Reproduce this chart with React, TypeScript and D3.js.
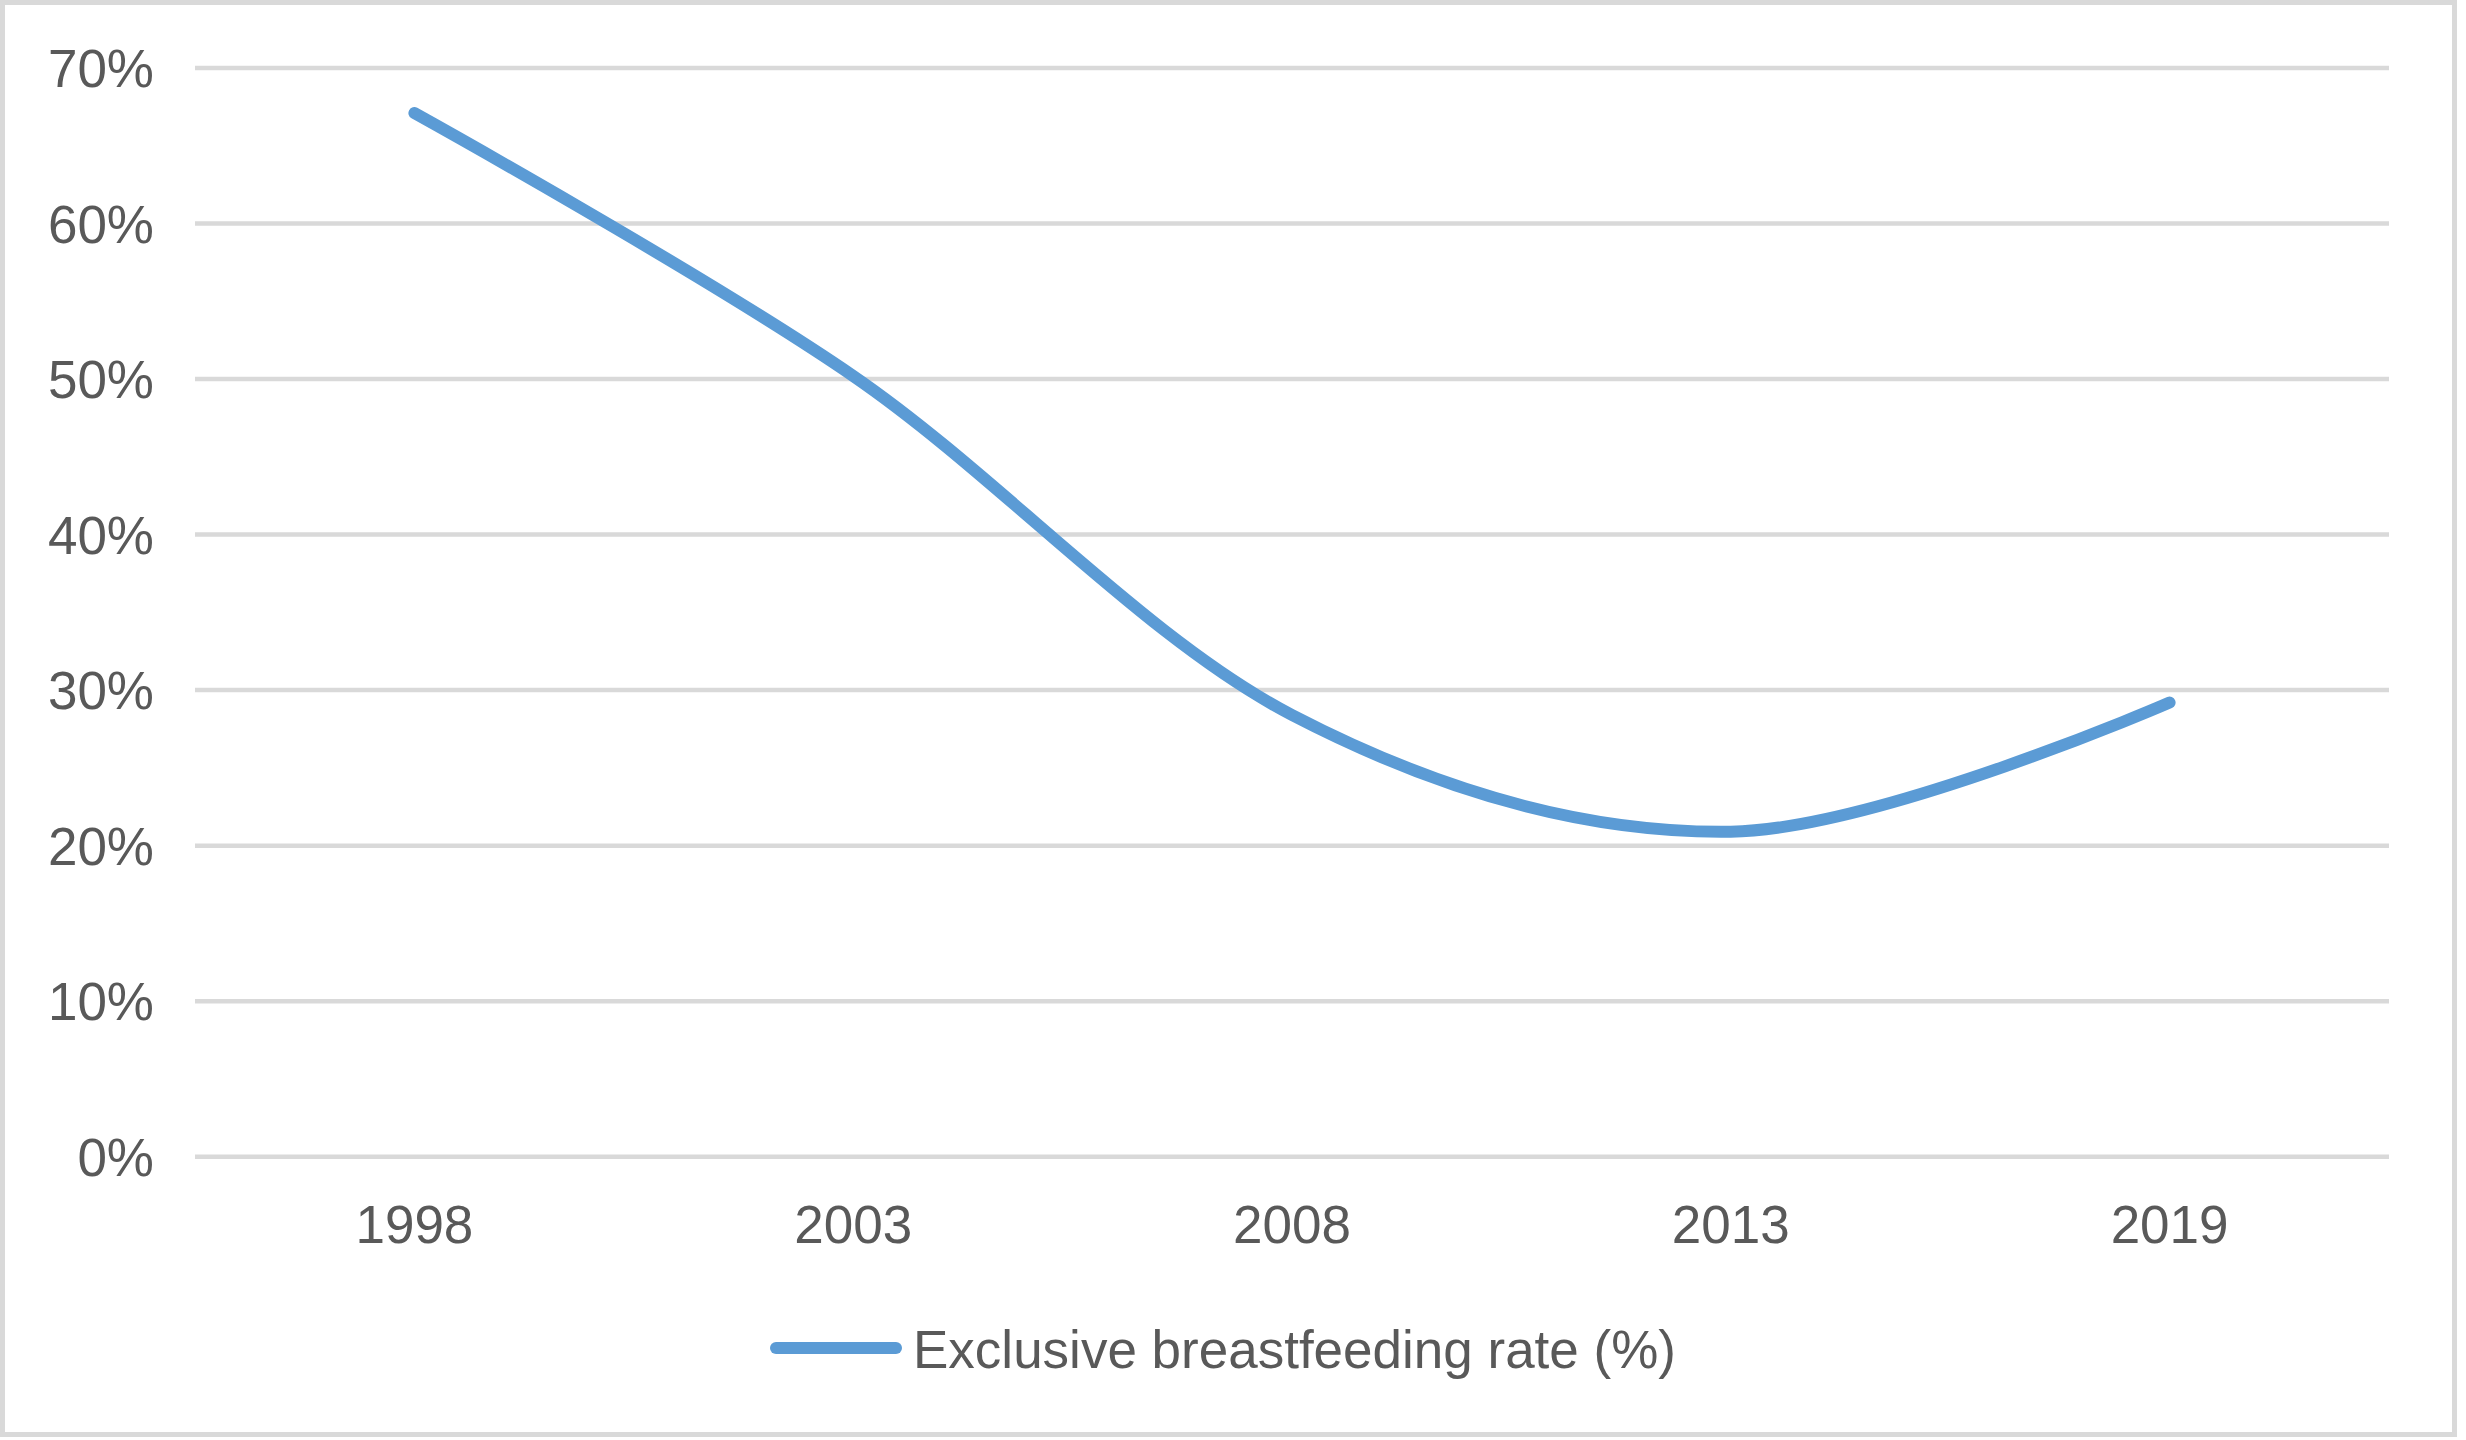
import React from "react";
import * as d3 from "d3";

// Survey years and exclusive breastfeeding rate (share of infants)
const years: string[] = ["1998", "2003", "2008", "2013", "2019"];
const rates: number[] = [0.671, 0.502, 0.284, 0.209, 0.292];
const yTicks: number[] = [0, 0.1, 0.2, 0.3, 0.4, 0.5, 0.6, 0.7];
const seriesName = "Exclusive breastfeeding rate (%)";

const W = 2466;
const H = 1440;
const plot = { left: 195, right: 2389, top: 68, bottom: 1156.7 };
const FONT = "'Liberation Sans', Arial, Helvetica, sans-serif";
const TEXT = "#595959";
const GRID = "#d9d9d9";
const LINE = "#5b9bd5";

export default function App() {
  const x = d3
    .scaleBand<string>()
    .domain(years)
    .range([plot.left, plot.right])
    .paddingInner(0)
    .paddingOuter(0);
  const y = d3.scaleLinear().domain([0, 0.7]).range([plot.bottom, plot.top]);
  const cx = (yr: string) => (x(yr) ?? 0) + x.bandwidth() / 2;

  const pts: [number, number][] = years.map((yr, i) => [cx(yr), y(rates[i])]);
  const line = d3.line().curve(d3.curveCardinal.tension(0));
  const pathD = line(pts) ?? "";

  const fmt = d3.format(".0%");
  const tickSize = 53;
  const capHalf = tickSize * 0.716 / 2;

  return (
    <svg
      width={W}
      height={H}
      style={{ position: "absolute", left: 0, top: 0, background: "#fff" }}
    >
      <rect x={0} y={0} width={W} height={H} fill="#fff" />
      <rect
        x={2.5}
        y={2.5}
        width={2452}
        height={1432}
        fill="#fff"
        stroke={GRID}
        strokeWidth={5}
      />
      {yTicks.map((t) => (
        <g key={t}>
          <line
            x1={plot.left}
            x2={plot.right}
            y1={y(t)}
            y2={y(t)}
            stroke={GRID}
            strokeWidth={4.5}
          />
          <text
            x={154}
            y={y(t) + capHalf}
            textAnchor="end"
            fontFamily={FONT}
            fontSize={tickSize}
            fill={TEXT}
          >
            {fmt(t)}
          </text>
        </g>
      ))}
      {years.map((yr) => (
        <text
          key={yr}
          x={cx(yr)}
          y={1243}
          textAnchor="middle"
          fontFamily={FONT}
          fontSize={tickSize}
          fill={TEXT}
        >
          {yr}
        </text>
      ))}
      <path
        d={pathD}
        fill="none"
        stroke={LINE}
        strokeWidth={12}
        strokeLinecap="round"
        strokeLinejoin="round"
      />
      <g>
        <line
          x1={776}
          x2={896}
          y1={1348}
          y2={1348}
          stroke={LINE}
          strokeWidth={12}
          strokeLinecap="round"
        />
        <text
          x={913}
          y={1368}
          fontFamily={FONT}
          fontSize={53}
          fill={TEXT}
        >
          {seriesName}
        </text>
      </g>
    </svg>
  );
}
